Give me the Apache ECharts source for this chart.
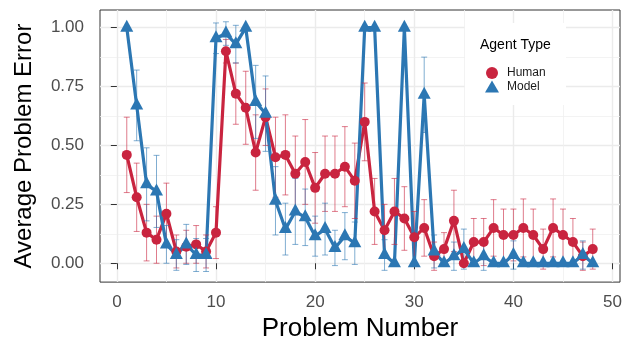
<!DOCTYPE html>
<html><head><meta charset="utf-8">
<script src="https://cdn.jsdelivr.net/npm/echarts@6/dist/echarts.min.js"></script>
<style>html,body{margin:0;padding:0;background:#fff}#c{width:634px;height:347px}</style>
</head><body><div id="c"></div>
<script>
const problems = [1,2,3,4,5,6,7,8,9,10,11,12,13,14,15,16,17,18,19,20,21,22,23,24,25,26,27,28,29,30,31,32,33,34,35,36,37,38,39,40,41,42,43,44,45,46,47,48];
const humanMean = [0.46,0.28,0.13,0.10,0.21,0.05,0.07,0.08,0.05,0.13,0.90,0.72,0.66,0.47,0.62,0.45,0.46,0.38,0.43,0.32,0.38,0.38,0.41,0.35,0.60,0.22,0.14,0.22,0.19,0.11,0.15,0.03,0.06,0.18,0.00,0.09,0.09,0.15,0.12,0.12,0.15,0.12,0.06,0.15,0.12,0.09,0.03,0.06];
const humanErr = [0.16,0.145,0.12,0.10,0.13,0.07,0.07,0.08,0.07,0.11,0.05,0.13,0.155,0.16,0.12,0.17,0.17,0.16,0.18,0.15,0.16,0.16,0.17,0.16,0.165,0.14,0.11,0.14,0.135,0.11,0.12,0.06,0.07,0.13,0.0,0.10,0.10,0.12,0.11,0.11,0.123,0.11,0.085,0.123,0.11,0.10,0.06,0.085];
const modelMean = [1.00,0.67,0.335,0.305,0.08,0.035,0.08,0.035,0.035,0.955,0.975,0.93,1.00,0.685,0.635,0.265,0.145,0.22,0.195,0.115,0.145,0.065,0.115,0.085,1.00,1.00,0.035,0.00,1.00,0.00,0.715,0.05,0.00,0.03,0.06,0.00,0.03,0.00,0.00,0.035,0.00,0.00,0.00,0.00,0.00,0.00,0.035,0.00];
const modelErr = [0,0.15,0.155,0.153,0.08,0.065,0.085,0.07,0.07,0.065,0.05,0.08,0,0.155,0.16,0.145,0.11,0.14,0.12,0.085,0.11,0.075,0.10,0.09,0,0,0.065,0,0,0,0.16,0.07,0,0.06,0.085,0,0.06,0,0,0.06,0,0,0,0,0,0,0.06,0];
const xTicks = [0,10,20,30,40,50];
const xMinor = [5,15,25,35,45];
const yTicks = [0,0.25,0.5,0.75,1];
const yMinor = [0.125,0.375,0.625,0.875];

const RED = '#C9243F', BLUE = '#2C77B3';
const FONT = 'Liberation Sans, Arial, Helvetica, sans-serif';
const capHalf = 0.3;

function errRender(color) {
  return function (params, api) {
    const x = api.value(0), m = api.value(1), e = api.value(2);
    const top = api.coord([x, m + e]);
    const bot = api.coord([x, m - e]);
    const l = api.coord([x - capHalf, m])[0];
    const r = api.coord([x + capHalf, m])[0];
    const st = { stroke: color, lineWidth: 1 };
    return { type: 'group', children: [
      { type: 'line', shape: { x1: top[0], y1: top[1], x2: bot[0], y2: bot[1] }, style: st },
      { type: 'line', shape: { x1: l, y1: top[1], x2: r, y2: top[1] }, style: st },
      { type: 'line', shape: { x1: l, y1: bot[1], x2: r, y2: bot[1] }, style: st }
    ]};
  };
}
const pts = (means) => problems.map((p, i) => [p, means[i]]);
const errPts = (means, errs) => problems.map((p, i) => [p, means[i], errs[i]]);

const XMIN = -1.7, XMAX = 50.75, YMIN = -0.08, YMAX = 1.075;
const majorLine = { color: '#EBEBEB', width: 1.4 };
const minorLine = { color: '#F0F0F0', width: 0.8 };

const chart = echarts.init(document.getElementById('c'), null, { renderer: 'canvas' });
chart.setOption({
  animation: false,
  textStyle: { fontFamily: FONT },
  grid: { left: 100, right: 14, top: 10, bottom: 64, show: true, borderColor: '#333333', borderWidth: 1, backgroundColor: 'transparent' },
  xAxis: [
    { type: 'value', min: XMIN, max: XMAX, position: 'bottom',
      axisLine: { show: false },
      axisTick: { show: true, length: 6, customValues: xTicks, lineStyle: { color: '#333333', width: 1 } },
      axisLabel: { customValues: xTicks, fontSize: 17, color: '#4D4D4D', margin: 12, fontFamily: FONT },
      splitLine: { show: true, lineStyle: majorLine },
      name: 'Problem Number', nameLocation: 'middle', nameGap: 31,
      nameTextStyle: { fontSize: 26, color: '#000', fontFamily: FONT } },
    { type: 'value', min: XMIN, max: XMAX, position: 'top',
      axisLine: { show: false }, axisTick: { show: false, customValues: xMinor },
      axisLabel: { show: false, customValues: xMinor },
      splitLine: { show: true, lineStyle: minorLine } }
  ],
  yAxis: [
    { type: 'value', min: YMIN, max: YMAX, position: 'left',
      axisLine: { show: false },
      axisTick: { show: true, length: 6, customValues: yTicks, lineStyle: { color: '#333333', width: 1 } },
      axisLabel: { customValues: yTicks, formatter: v => v.toFixed(2), fontSize: 17, color: '#4D4D4D', margin: 16, fontFamily: FONT },
      splitLine: { show: true, lineStyle: majorLine },
      name: 'Average Problem Error', nameLocation: 'middle', nameGap: 64,
      nameTextStyle: { fontSize: 24, color: '#000', fontFamily: FONT } },
    { type: 'value', min: YMIN, max: YMAX, position: 'right',
      axisLine: { show: false }, axisTick: { show: false, customValues: yMinor },
      axisLabel: { show: false, customValues: yMinor },
      splitLine: { show: true, lineStyle: minorLine } }
  ],
  legend: {
    data: [{ name: 'Human', icon: 'circle' }, { name: 'Model', icon: 'triangle' }],
    orient: 'vertical', left: 480, top: 62, itemWidth: 14, itemHeight: 12, itemGap: 1.5,
    selectedMode: false, z: 20,
    textStyle: { fontSize: 12, color: '#1A1A1A', fontFamily: FONT, padding: [0, 0, 0, 3], lineHeight: 12 }
  },
  graphic: [
    { type: 'rect', left: 465, top: 23, z: 15, shape: { width: 101, height: 82 }, style: { fill: '#FFFFFF' } },
    { type: 'text', left: 480, top: 38, z: 16, style: { text: 'Agent Type', fontSize: 14, fill: '#000', fontFamily: FONT } }
  ],
  series: [
    { name: 'Human line', type: 'line', data: pts(humanMean), symbol: 'none', z: 2,
      lineStyle: { color: RED, width: 3.2 }, itemStyle: { color: RED } },
    { name: 'Model line', type: 'line', data: pts(modelMean), symbol: 'none', z: 2,
      lineStyle: { color: BLUE, width: 3.2 }, itemStyle: { color: BLUE } },
    { name: 'Human err', type: 'custom', data: errPts(humanMean, humanErr), z: 3,
      renderItem: errRender('rgba(201,36,63,0.6)'), encode: { x: 0, y: 1 } },
    { name: 'Model err', type: 'custom', data: errPts(modelMean, modelErr), z: 3,
      renderItem: errRender('rgba(44,119,179,0.6)'), encode: { x: 0, y: 1 } },
    { name: 'Human', type: 'scatter', data: pts(humanMean), symbol: 'circle', symbolSize: 10, z: 4,
      itemStyle: { color: RED, opacity: 1 } },
    { name: 'Model', type: 'scatter', data: pts(modelMean), symbol: 'triangle', symbolSize: [13, 12], symbolOffset: [0, -2], z: 5,
      itemStyle: { color: BLUE, opacity: 1 } }
  ]
});
</script>
</body></html>
